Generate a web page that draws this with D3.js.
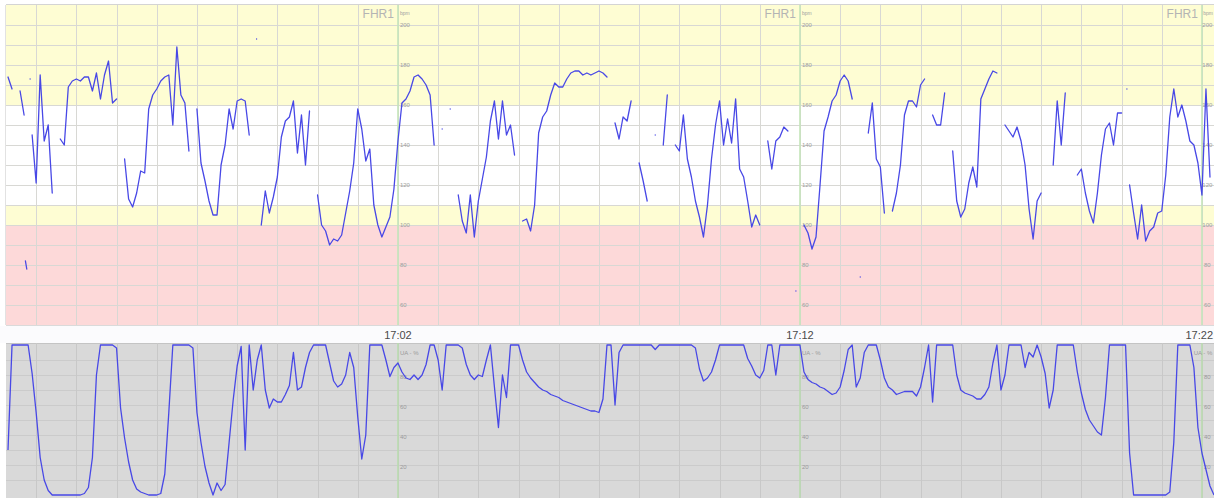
<!DOCTYPE html>
<html>
<head>
<meta charset="utf-8">
<script src="https://cdn.jsdelivr.net/npm/d3@7"></script>
<style>
  body { margin: 0; background: #fff; }
  svg { display: block; font-family: "Liberation Sans", Arial, sans-serif; }
  .grid path { display: none; }
  .grid line { shape-rendering: crispEdges; }
</style>
</head>
<body>
<div id="chart"></div>
<script>
// ---- data (one sample every 6 s, null = signal lost) ----
var startTime = new Date(2021, 0, 1, 16, 52, 18);
var sampleSeconds = 6;
var viewFrom = new Date(2021, 0, 1, 16, 52, 15),
    viewTo = new Date(2021, 0, 1, 17, 22, 18);

var fhrValues = [
  174,168,null,167,155,null,145,121,175,142,
  150,116,null,143,140,169,172,173,172,174,
  174,167,176,163,175,182,161,163,null,133,
  113,109,116,127,126,158,165,168,172,174,
  175,150,189,165,161,137,null,158,131,122,
  112,105,105,130,140,158,148,162,163,162,
  145,null,null,100,117,106,114,124,144,152,
  154,162,136,155,130,157,null,115,100,97,
  90,93,92,95,106,117,131,158,148,132,
  138,110,100,94,99,104,118,142,161,163,
  167,174,175,173,170,165,140,null,148,null,
  158,null,115,102,96,115,94,112,123,134,
  152,162,143,162,145,150,135,null,102,103,
  97,110,146,154,157,165,171,169,169,173,
  176,177,177,175,176,175,176,177,176,174,
  null,151,143,154,152,162,null,131,122,112,
  null,145,null,140,165,null,140,137,155,133,
  124,112,104,94,110,133,150,162,140,153,
  141,163,128,124,112,99,105,100,null,142,
  128,142,144,149,147,null,67,null,100,96,
  88,94,120,147,154,162,165,172,175,172,
  163,null,74,null,146,161,133,129,106,null,
  107,116,130,155,162,162,159,170,173,null,
  155,150,150,166,null,137,112,104,108,121,
  129,119,163,168,173,177,176,null,150,147,
  144,149,142,130,108,93,112,116,null,null,
  130,162,140,166,null,null,125,128,116,107,
  101,116,135,148,151,140,156,156,null,120,
  106,93,110,92,97,99,106,107,125,154,
  168,154,160,152,142,140,131,115,168,124,null
];

var uaValues = [
  30,100,100,100,100,100,81,55,25,10,
  3,0,0,0,0,0,0,0,0,1,
  5,25,80,100,100,100,100,98,58,38,
  22,10,4,2,1,0,0,0,1,14,
  55,100,100,100,100,100,98,55,35,19,
  8,0,8,3,7,35,63,86,99,30,
  100,70,90,100,70,58,64,62,62,67,
  73,95,70,72,85,95,100,100,100,100,
  88,76,72,74,80,95,85,52,24,40,
  100,100,100,100,90,79,85,88,82,78,
  77,80,77,80,87,100,100,90,70,100,
  100,100,100,98,87,80,77,80,79,90,
  100,72,45,80,65,100,100,100,90,82,
  78,75,72,70,69,67,66,65,63,62,
  61,60,59,58,57,56,56,55,64,100,
  100,60,95,100,100,100,100,100,100,100,
  100,97,100,100,100,100,100,100,100,100,
  100,98,84,76,78,82,90,100,100,100,
  100,100,100,100,91,86,80,78,83,100,
  100,80,100,100,100,100,100,100,82,77,
  75,74,72,71,69,67,68,72,83,97,
  100,72,78,95,100,100,100,90,78,72,
  70,67,68,69,69,69,66,72,85,100,
  62,100,100,100,100,100,80,70,68,67,
  66,64,64,67,72,88,100,70,80,100,
  100,100,100,85,95,92,100,92,81,58,
  70,100,100,100,100,100,82,68,57,50,
  46,42,40,65,100,100,100,100,100,28,
  0,0,0,0,0,0,0,0,0,2,
  35,100,100,100,100,85,45,28,17,6,0
];

// loose fragments of the FHR trace: [seconds after startTime, bpm]
var fhrSpecks = [
  [[26, 82], [28, 78]],
  [[33, 173]],
  [[371, 193]],
  [[1670, 168]]
];

var fhrBands = [
  { from: 160, to: 210, zone: 'alert' },
  { from: 110, to: 160, zone: 'normal' },
  { from: 100, to: 110, zone: 'alert' },
  { from: 50, to: 100, zone: 'danger' }
];
var majorLabels = ['17:02', '17:12', '17:22'];
var fhrTickLabels = [200, 180, 160, 140, 120, 100, 80, 60];
var uaTickLabels = [80, 60, 40, 20];

// ---- layout ----
var WIDTH = 1214, HEIGHT = 498,
    LEFT = 6, RIGHT = 1214,
    FHR_TOP = 5, FHR_BOTTOM = 325,
    UA_TOP = 343, UA_BOTTOM = 498;
var ZONE_COLOR = { alert: '#fefdd3', normal: '#ffffff', danger: '#fdd9d9' };
var TRACE = '#4848e6';

var svg = d3.select('#chart').append('svg')
    .attr('width', WIDTH).attr('height', HEIGHT);

var x = d3.scaleTime().domain([viewFrom, viewTo]).range([LEFT, RIGHT]);
var yFhr = d3.scaleLinear().domain([50, 210]).range([FHR_BOTTOM, FHR_TOP]);
var yUa = d3.scaleLinear().domain([0, 100]).range([495, 345]);

function timeOf(i) { return new Date(+startTime + i * sampleSeconds * 1000); }
var majors = majorLabels.map(function(s) {
    var p = s.split(':');
    return { label: s, t: new Date(2021, 0, 1, +p[0], +p[1]) };
});

// keep a text inside the picture's right edge
function keepInside(sel) {
    sel.each(function() {
        var box = this.getBBox();
        var over = box.x + box.width - (WIDTH - 1);
        if (over > 0) d3.select(this).attr('x', +d3.select(this).attr('x') - over);
    });
}

var defs = svg.append('defs');
defs.append('clipPath').attr('id', 'clipFhr')
    .append('rect').attr('x', LEFT).attr('y', FHR_TOP)
    .attr('width', RIGHT - LEFT).attr('height', FHR_BOTTOM - FHR_TOP);
defs.append('clipPath').attr('id', 'clipUa')
    .append('rect').attr('x', LEFT).attr('y', UA_TOP)
    .attr('width', RIGHT - LEFT).attr('height', UA_BOTTOM - UA_TOP);

// ---- FHR panel ----
var fhrPanel = svg.append('g');
fhrPanel.selectAll('rect.band').data(fhrBands).enter().append('rect')
    .attr('class', 'band')
    .attr('x', LEFT).attr('width', RIGHT - LEFT)
    .attr('y', function(d) { return yFhr(d.to); })
    .attr('height', function(d) { return yFhr(d.from) - yFhr(d.to); })
    .attr('fill', function(d) { return ZONE_COLOR[d.zone]; });

fhrPanel.append('g').attr('class', 'grid')
    .attr('transform', 'translate(' + LEFT + ',0)')
    .call(d3.axisLeft(yFhr).tickValues(d3.range(60, 201, 10))
        .tickSize(-(RIGHT - LEFT)).tickFormat(''))
    .selectAll('line').attr('stroke', '#d8d8d4');

fhrPanel.append('g').attr('class', 'grid')
    .attr('transform', 'translate(0,' + FHR_BOTTOM + ')')
    .call(d3.axisBottom(x).ticks(d3.timeMinute.every(1))
        .tickSize(-(FHR_BOTTOM - FHR_TOP)).tickFormat(''))
    .selectAll('line').attr('stroke', '#d8d8d4');

fhrPanel.selectAll('line.major').data(majors).enter().append('line')
    .attr('class', 'major')
    .attr('x1', function(d) { return x(d.t); }).attr('x2', function(d) { return x(d.t); })
    .attr('y1', FHR_TOP).attr('y2', FHR_BOTTOM)
    .attr('stroke', '#c4e5b9').attr('stroke-width', 1.5);

fhrPanel.append('line').attr('x1', LEFT).attr('x2', RIGHT)
    .attr('y1', FHR_TOP - 0.5).attr('y2', FHR_TOP - 0.5)
    .attr('stroke', '#d4d4d4');
fhrPanel.append('line').attr('x1', LEFT - 0.5).attr('x2', LEFT - 0.5)
    .attr('y1', FHR_TOP).attr('y2', FHR_BOTTOM)
    .attr('stroke', '#e2e2e2');

majors.forEach(function(m) {
    var mx = x(m.t);
    fhrPanel.append('text').attr('x', mx - 4).attr('y', 18)
        .attr('text-anchor', 'end').attr('font-size', 12)
        .attr('fill', '#b4b4b4').text('FHR1');
    fhrPanel.append('text').attr('x', mx + 2).attr('y', 15)
        .attr('font-size', 5).attr('fill', '#a0a0a0').text('bpm')
        .call(keepInside);
    fhrPanel.selectAll(null).data(fhrTickLabels).enter().append('text')
        .attr('x', mx + 2).attr('y', function(d) { return yFhr(d) + 2; })
        .attr('font-size', 6).attr('fill', '#a0a0a0')
        .text(function(d) { return d; })
        .call(keepInside);
});

var fhrLine = d3.line()
    .defined(function(d) { return d != null; })
    .x(function(d, i) { return x(timeOf(i)); })
    .y(function(d) { return yFhr(d); });

var traceFhr = fhrPanel.append('g').attr('clip-path', 'url(#clipFhr)');
traceFhr.append('path').datum(fhrValues)
    .attr('d', fhrLine)
    .attr('fill', 'none').attr('stroke', TRACE)
    .attr('stroke-width', 1.3).attr('stroke-linejoin', 'round')
    .attr('stroke-linecap', 'round');

var speckLine = d3.line()
    .x(function(d) { return x(new Date(+startTime + d[0] * 1000)); })
    .y(function(d) { return yFhr(d[1]); });
traceFhr.selectAll('path.speck').data(fhrSpecks).enter().append('path')
    .attr('class', 'speck')
    .attr('d', speckLine)
    .attr('fill', 'none').attr('stroke', TRACE)
    .attr('stroke-width', 1.3).attr('stroke-linecap', 'round');

// ---- time strip ----
svg.append('rect').attr('x', 0).attr('y', FHR_BOTTOM + 1)
    .attr('width', WIDTH).attr('height', UA_TOP - FHR_BOTTOM - 1)
    .attr('fill', '#fbfbfd');
svg.append('line').attr('x1', LEFT).attr('x2', RIGHT)
    .attr('y1', FHR_BOTTOM + 0.5).attr('y2', FHR_BOTTOM + 0.5)
    .attr('stroke', '#dadada');
svg.selectAll('text.time').data(majors).enter().append('text')
    .attr('class', 'time')
    .attr('x', function(d) { return x(d.t); }).attr('y', 339)
    .attr('text-anchor', 'middle').attr('font-size', 11)
    .attr('fill', '#4a4a4a')
    .text(function(d) { return d.label; })
    .call(keepInside);

// ---- UA panel ----
var uaPanel = svg.append('g');
uaPanel.append('rect').attr('x', LEFT).attr('y', UA_TOP)
    .attr('width', RIGHT - LEFT).attr('height', UA_BOTTOM - UA_TOP)
    .attr('fill', '#d9d9d9');
uaPanel.append('line').attr('x1', LEFT).attr('x2', RIGHT)
    .attr('y1', UA_TOP + 0.5).attr('y2', UA_TOP + 0.5)
    .attr('stroke', '#c4c4c4');

uaPanel.append('g').attr('class', 'grid')
    .attr('transform', 'translate(' + LEFT + ',0)')
    .call(d3.axisLeft(yUa).tickValues(d3.range(10, 100, 10))
        .tickSize(-(RIGHT - LEFT)).tickFormat(''))
    .selectAll('line').attr('stroke', '#cbcbcb');

uaPanel.append('g').attr('class', 'grid')
    .attr('transform', 'translate(0,' + UA_BOTTOM + ')')
    .call(d3.axisBottom(x).ticks(d3.timeMinute.every(1))
        .tickSize(-(UA_BOTTOM - UA_TOP)).tickFormat(''))
    .selectAll('line').attr('stroke', '#c8c8c8');

uaPanel.selectAll('line.major').data(majors).enter().append('line')
    .attr('class', 'major')
    .attr('x1', function(d) { return x(d.t); }).attr('x2', function(d) { return x(d.t); })
    .attr('y1', UA_TOP).attr('y2', UA_BOTTOM)
    .attr('stroke', '#b9dcae').attr('stroke-width', 1.5);

majors.forEach(function(m) {
    var mx = x(m.t);
    uaPanel.append('text').attr('x', mx + 2).attr('y', 355)
        .attr('font-size', 6).attr('fill', '#9a9a9a').text('UA - %')
        .call(keepInside);
    uaPanel.selectAll(null).data(uaTickLabels).enter().append('text')
        .attr('x', mx + 2).attr('y', function(d) { return yUa(d) + 4; })
        .attr('font-size', 6).attr('fill', '#9a9a9a')
        .text(function(d) { return d; })
        .call(keepInside);
});

var uaLine = d3.line()
    .defined(function(d) { return d != null; })
    .x(function(d, i) { return x(timeOf(i)); })
    .y(function(d) { return yUa(d); });

uaPanel.append('g').attr('clip-path', 'url(#clipUa)')
    .append('path').datum(uaValues)
    .attr('d', uaLine)
    .attr('fill', 'none').attr('stroke', TRACE)
    .attr('stroke-width', 1.3).attr('stroke-linejoin', 'round');
</script>
</body>
</html>
